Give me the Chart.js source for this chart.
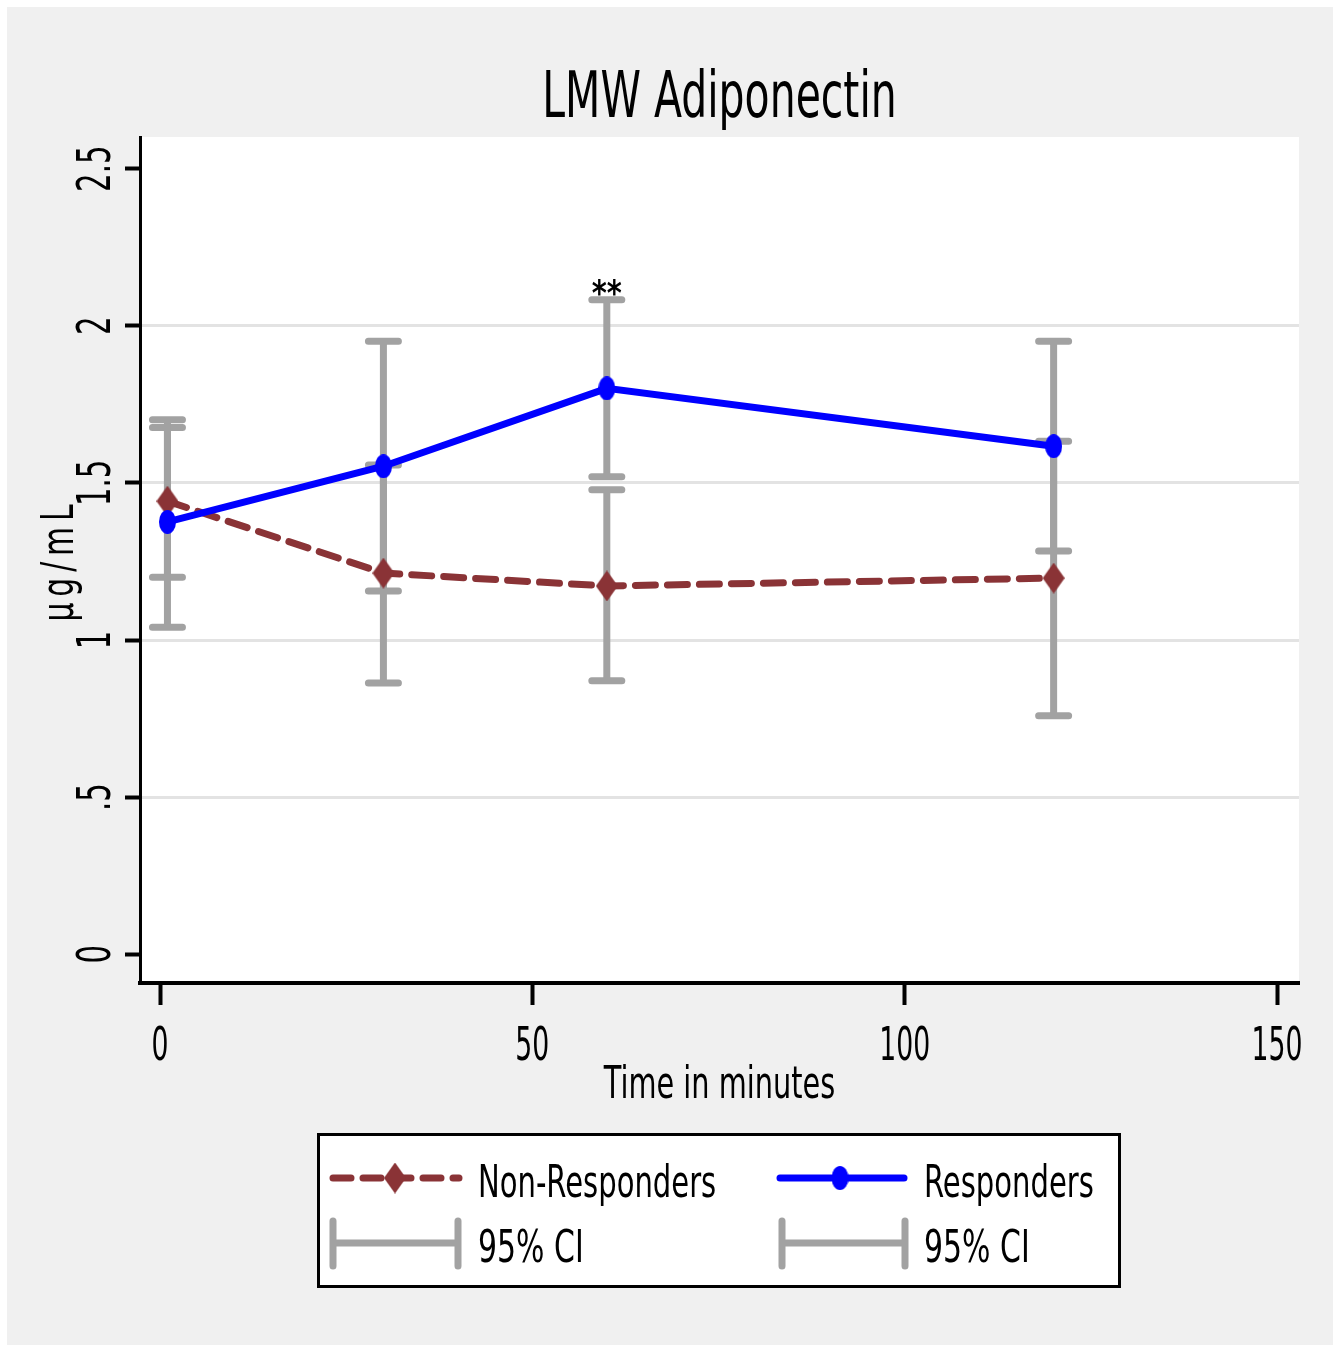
<!DOCTYPE html>
<html>
<head>
<meta charset="utf-8">
<script src="https://cdn.jsdelivr.net/npm/chart.js@4.4.1/dist/chart.umd.min.js"></script>
<style>
  html, body { margin: 0; padding: 0; background: #ffffff; overflow: hidden; }
  #wrap { position: absolute; left: 7px; top: 7px; width: 1326px; height: 1338px; background: #f0f0f0; }
</style>
</head>
<body>
<div id="wrap"><canvas id="chart"></canvas></div>
<script>
// time points (minutes) and group values, µg/mL
var timePoints = [1, 30, 60, 120];
var nonRespMean  = [1.442, 1.213, 1.172, 1.197];
var nonRespLower = [1.200, 0.863, 0.870, 0.759];
var nonRespUpper = [1.676, 1.557, 1.478, 1.633];
var respMean  = [1.376, 1.553, 1.801, 1.617];
var respLower = [1.041, 1.156, 1.520, 1.283];
var respUpper = [1.701, 1.951, 2.083, 1.951];

var xTicks = [0, 50, 100, 150];
var yTicks = [0, 0.5, 1, 1.5, 2, 2.5];
var yTickLabels = ["0", ".5", "1", "1.5", "2", "2.5"];

// significance mark
var starX = [60];
var starY = [2.13];
var starLabels = ["**"];

var chartTitle = "LMW Adiponectin";
var xTitle = "Time in minutes";
var yTitle = "µg/mL";
var legendLabels = ["Non-Responders", "Responders", "95% CI", "95% CI"];

var FONT = "'DejaVu Sans', Verdana, sans-serif";
var MAROON = "#8a3336";
var BLUE = "#0000ff";
var CI_GRAY = "#a2a2a2";

function makeEllipse(w, h, color) {
    var c = document.createElement("canvas");
    c.width = w; c.height = h;
    var g = c.getContext("2d");
    g.fillStyle = color;
    g.beginPath();
    g.ellipse(w / 2, h / 2, w / 2, h / 2, 0, 0, Math.PI * 2);
    g.fill();
    return c;
}

function makeDiamond(w, h, color) {
    var c = document.createElement("canvas");
    c.width = w; c.height = h;
    var g = c.getContext("2d");
    g.fillStyle = color;
    g.beginPath();
    g.moveTo(w / 2, 0);
    g.lineTo(w, h / 2);
    g.lineTo(w / 2, h);
    g.lineTo(0, h / 2);
    g.closePath();
    g.fill();
    return c;
}

var circleMark = makeEllipse(17, 24, BLUE);
var diamondMark = makeDiamond(22, 31, MAROON);

// narrow text: scale along the writing direction
function drawText(ctx, text, x, y, size, sx, align, angle, weight, spacing) {
    ctx.save();
    ctx.translate(x, y);
    if (angle) ctx.rotate(angle);
    ctx.scale(sx, 1);
    ctx.font = (weight || "normal") + " " + size + "px " + FONT;
    if (spacing) ctx.letterSpacing = spacing;
    ctx.fillStyle = "#000";
    ctx.textAlign = align;
    ctx.textBaseline = "alphabetic";
    ctx.fillText(text, 0, 0);
    ctx.restore();
}

function toPoints(xs, ys) {
    return xs.map(function(x, i) { return { x: x, y: ys[i] }; });
}

function drawCI(ctx, xs, lo, hi, xScale, yScale) {
    ctx.save();
    ctx.strokeStyle = CI_GRAY;
    ctx.lineWidth = 7;
    ctx.lineCap = "round";
    for (var i = 0; i < xs.length; i++) {
        var px = xScale.getPixelForValue(xs[i]);
        var y1 = yScale.getPixelForValue(lo[i]);
        var y2 = yScale.getPixelForValue(hi[i]);
        ctx.beginPath();
        ctx.moveTo(px, y1);
        ctx.lineTo(px, y2);
        ctx.moveTo(px - 15, y1);
        ctx.lineTo(px + 15, y1);
        ctx.moveTo(px - 15, y2);
        ctx.lineTo(px + 15, y2);
        ctx.stroke();
    }
    ctx.restore();
}

var stataPlugin = {
    id: "stata",
    beforeDraw: function(chart) {
        var ctx = chart.ctx, a = chart.chartArea;
        ctx.save();
        ctx.fillStyle = "#ffffff";
        ctx.fillRect(a.left, a.top, a.right - a.left, a.bottom - a.top);
        ctx.restore();
    },
    beforeDatasetsDraw: function(chart) {
        var ctx = chart.ctx;
        var xs = chart.scales.x, ys = chart.scales.y;
        drawCI(ctx, timePoints, nonRespLower, nonRespUpper, xs, ys);
        drawCI(ctx, timePoints, respLower, respUpper, xs, ys);
    },
    afterDraw: function(chart) {
        var ctx = chart.ctx, a = chart.chartArea;
        var xs = chart.scales.x, ys = chart.scales.y;
        var midX = (a.left + a.right) / 2;
        var midY = (a.top + a.bottom) / 2;

        // title
        drawText(ctx, chartTitle, midX, 110, 64, 0.64, "center");

        // x tick labels
        xTicks.forEach(function(v) {
            drawText(ctx, String(v), xs.getPixelForValue(v), 1053, 46, 0.58, "center");
        });
        drawText(ctx, xTitle, midX, 1091, 45, 0.64, "center");

        // y tick labels, vertical
        yTicks.forEach(function(v, i) {
            drawText(ctx, yTickLabels[i], 103, ys.getPixelForValue(v), 47, 0.62, "center", -Math.PI / 2);
        });
        drawText(ctx, yTitle, 66, midY, 45, 0.66, "center", -Math.PI / 2, "normal", "9px");

        // significance stars
        starX.forEach(function(v, i) {
            drawText(ctx, starLabels[i], xs.getPixelForValue(v), ys.getPixelForValue(starY[i]) + 20, 36, 0.8, "center", 0, "bold");
        });

        // legend box
        ctx.save();
        ctx.fillStyle = "#ffffff";
        ctx.fillRect(311, 1127, 801, 152);
        ctx.strokeStyle = "#000";
        ctx.lineWidth = 3;
        ctx.strokeRect(311.5, 1127.5, 801, 152);

        // non-responders key
        ctx.strokeStyle = MAROON;
        ctx.lineWidth = 7;
        ctx.lineCap = "round";
        ctx.setLineDash([18, 12]);
        ctx.beginPath();
        ctx.moveTo(326, 1171);
        ctx.lineTo(452, 1171);
        ctx.stroke();
        ctx.setLineDash([]);
        ctx.drawImage(diamondMark, 388 - diamondMark.width / 2, 1171 - diamondMark.height / 2);

        // responders key
        ctx.strokeStyle = BLUE;
        ctx.beginPath();
        ctx.moveTo(773, 1171);
        ctx.lineTo(897, 1171);
        ctx.stroke();
        ctx.drawImage(circleMark, 833 - circleMark.width / 2, 1171 - circleMark.height / 2);

        // CI keys
        ctx.strokeStyle = CI_GRAY;
        ctx.lineWidth = 7;
        [[326, 451], [775, 898]].forEach(function(p) {
            ctx.beginPath();
            ctx.moveTo(p[0], 1236);
            ctx.lineTo(p[1], 1236);
            ctx.moveTo(p[0], 1214);
            ctx.lineTo(p[0], 1259);
            ctx.moveTo(p[1], 1214);
            ctx.lineTo(p[1], 1259);
            ctx.stroke();
        });
        ctx.restore();

        drawText(ctx, legendLabels[0], 471, 1190, 44, 0.66, "left");
        drawText(ctx, legendLabels[1], 917, 1190, 44, 0.66, "left");
        drawText(ctx, legendLabels[2], 471, 1255, 44, 0.68, "left");
        drawText(ctx, legendLabels[3], 917, 1255, 44, 0.68, "left");
    }
};

new Chart(document.getElementById("chart"), {
    type: "line",
    data: {
        datasets: [{
            label: legendLabels[1],
            data: toPoints(timePoints, respMean),
            borderColor: BLUE,
            backgroundColor: BLUE,
            borderWidth: 7,
            tension: 0,
            pointStyle: circleMark,
            pointRadius: 10,
            order: 0
        }, {
            label: legendLabels[0],
            data: toPoints(timePoints, nonRespMean),
            borderColor: MAROON,
            backgroundColor: MAROON,
            borderWidth: 7,
            borderDash: [20, 12],
            borderCapStyle: "round",
            tension: 0,
            pointStyle: diamondMark,
            pointRadius: 12,
            order: 1
        }]
    },
    options: {
        responsive: true,
        maintainAspectRatio: false,
        animation: false,
        devicePixelRatio: 1,
        layout: { padding: { top: 130, right: 34, bottom: 232, left: 0 } },
        plugins: {
            legend: { display: false },
            title: { display: false },
            tooltip: { enabled: false }
        },
        scales: {
            x: {
                type: "linear",
                min: -2.686,
                max: 152.95,
                afterBuildTicks: function(scale) {
                    scale.ticks = xTicks.map(function(v) { return { value: v }; });
                },
                afterFit: function(scale) { scale.height = 130; },
                ticks: { display: false },
                grid: {
                    drawOnChartArea: false,
                    drawTicks: true,
                    tickLength: 22,
                    tickColor: "#000",
                    tickWidth: 4
                },
                border: { display: true, color: "#000", width: 4 }
            },
            y: {
                type: "linear",
                min: -0.0917,
                max: 2.601,
                afterBuildTicks: function(scale) {
                    scale.ticks = yTicks.map(function(v) { return { value: v }; });
                },
                afterFit: function(scale) { scale.width = 133; },
                ticks: { display: false },
                grid: {
                    color: function(c) {
                        var v = c.tick ? c.tick.value : null;
                        return (v === 0 || v === 2.5) ? "rgba(0,0,0,0)" : "#e3e3e3";
                    },
                    lineWidth: 3,
                    drawTicks: true,
                    tickLength: 15,
                    tickColor: "#000",
                    tickWidth: 4
                },
                border: { display: true, color: "#000", width: 3 }
            }
        }
    },
    plugins: [stataPlugin]
});
</script>
</body>
</html>
